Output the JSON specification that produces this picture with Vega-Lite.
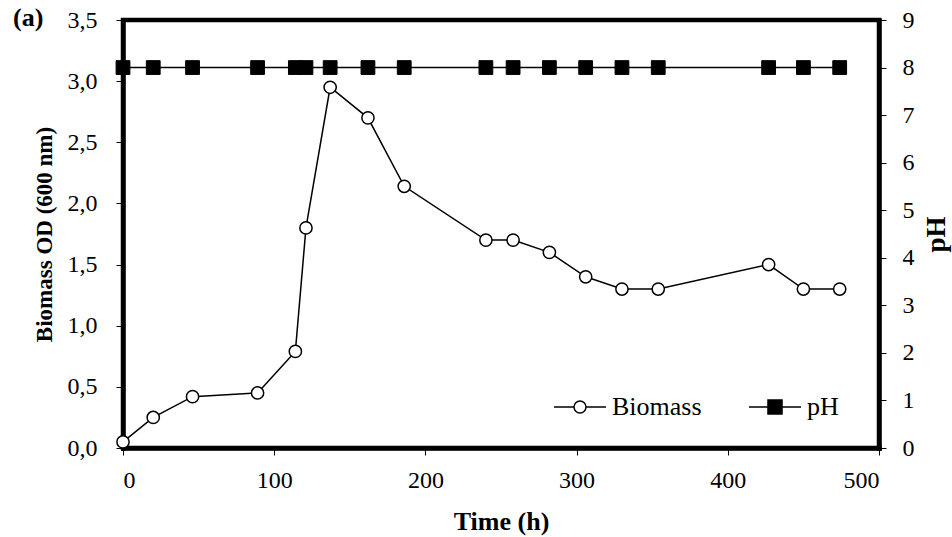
{
  "$schema": "https://vega.github.io/schema/vega-lite/v6.json",
  "width": 756,
  "height": 428,
  "autosize": {"type": "none"},
  "padding": {"left": 123, "top": 20, "right": 73, "bottom": 89},
  "background": "white",
  "title": {"text": "(a)", "anchor": "start", "frame": "group", "font": "Liberation Serif", "fontSize": 26, "fontWeight": "bold", "color": "black", "dx": -110, "dy": 36, "baseline": "middle", "offset": 0},
  "data": {"values": [
    {"time": 0, "series": "Biomass", "value": 0.05},
    {"time": 20, "series": "Biomass", "value": 0.25},
    {"time": 46, "series": "Biomass", "value": 0.42},
    {"time": 89, "series": "Biomass", "value": 0.45},
    {"time": 114, "series": "Biomass", "value": 0.79},
    {"time": 121, "series": "Biomass", "value": 1.8},
    {"time": 137, "series": "Biomass", "value": 2.95},
    {"time": 162, "series": "Biomass", "value": 2.7},
    {"time": 186, "series": "Biomass", "value": 2.14},
    {"time": 240, "series": "Biomass", "value": 1.7},
    {"time": 258, "series": "Biomass", "value": 1.7},
    {"time": 282, "series": "Biomass", "value": 1.6},
    {"time": 306, "series": "Biomass", "value": 1.4},
    {"time": 330, "series": "Biomass", "value": 1.3},
    {"time": 354, "series": "Biomass", "value": 1.3},
    {"time": 427, "series": "Biomass", "value": 1.5},
    {"time": 450, "series": "Biomass", "value": 1.3},
    {"time": 474, "series": "Biomass", "value": 1.3},
    {"time": 0, "series": "pH", "value": 8},
    {"time": 20, "series": "pH", "value": 8},
    {"time": 46, "series": "pH", "value": 8},
    {"time": 89, "series": "pH", "value": 8},
    {"time": 114, "series": "pH", "value": 8},
    {"time": 121, "series": "pH", "value": 8},
    {"time": 137, "series": "pH", "value": 8},
    {"time": 162, "series": "pH", "value": 8},
    {"time": 186, "series": "pH", "value": 8},
    {"time": 240, "series": "pH", "value": 8},
    {"time": 258, "series": "pH", "value": 8},
    {"time": 282, "series": "pH", "value": 8},
    {"time": 306, "series": "pH", "value": 8},
    {"time": 330, "series": "pH", "value": 8},
    {"time": 354, "series": "pH", "value": 8},
    {"time": 427, "series": "pH", "value": 8},
    {"time": 450, "series": "pH", "value": 8},
    {"time": 474, "series": "pH", "value": 8}
  ]},
  "encoding": {
    "x": {"field": "time", "type": "quantitative", "scale": {"domain": [0, 500], "nice": false},
      "axis": {"title": "Time (h)", "values": [0, 100, 200, 300, 400, 500], "grid": false, "titlePadding": 16, "labelPadding": 13, "titleFontSize": 26}}
  },
  "layer": [
    {
      "transform": [{"filter": "datum.series == 'Biomass'"}],
      "encoding": {
        "y": {"field": "value", "type": "quantitative", "scale": {"domain": [0, 3.5], "nice": false},
          "axis": {"title": "Biomass OD (600 nm)", "orient": "left", "values": [0, 0.5, 1, 1.5, 2, 2.5, 3, 3.5], "labelExpr": "replace(format(datum.value, '.1f'), '.', ',')", "grid": false, "labelPadding": 19, "titlePadding": 11, "titleFontSize": 23}}
      },
      "layer": [
        {"mark": {"type": "line", "color": "black", "strokeWidth": 1.5}},
        {"mark": {"type": "point", "shape": "circle", "filled": true, "fill": "white", "size": 150, "stroke": "black", "strokeWidth": 1.5, "opacity": 1}},
        {"transform": [{"filter": "datum.series == 'legend-only'"}],
         "mark": {"type": "point", "filled": true, "stroke": "black", "strokeWidth": 1.5, "opacity": 1},
          "encoding": {
            "fill": {"field": "series", "type": "nominal", "scale": {"domain": ["Biomass", "pH"], "range": ["white", "black"]},
              "legend": {"title": null, "encode": {"symbols": {"update": {"stroke": {"value": "black"}, "strokeWidth": {"value": 1.5}}}}}},
            "shape": {"field": "series", "type": "nominal", "scale": {"domain": ["Biomass", "pH"], "range": ["M-1,0H-0.23M0.23,0H1M0.23,0A0.23,0.23 0 1,1 -0.23,0A0.23,0.23 0 1,1 0.23,0Z", "M-1,0H1M-0.27,-0.27H0.27V0.27H-0.27Z"]},
              "legend": {"title": null, "encode": {"symbols": {"update": {"stroke": {"value": "black"}, "strokeWidth": {"value": 1.5}}}}}}
          }}
      ]
    },
    {
      "transform": [{"filter": "datum.series == 'pH'"}],
      "encoding": {
        "y": {"field": "value", "type": "quantitative", "scale": {"domain": [0, 9], "nice": false},
          "axis": {"title": "pH", "orient": "right", "values": [0, 1, 2, 3, 4, 5, 6, 7, 8, 9], "grid": false, "labelPadding": 16, "titlePadding": 36, "titleAngle": 270, "titleFontSize": 27}}
      },
      "layer": [
        {"mark": {"type": "line", "color": "black", "strokeWidth": 1.5}},
        {"mark": {"type": "point", "shape": "square", "filled": true, "fill": "black", "size": 190, "stroke": "black", "strokeWidth": 1, "opacity": 1}}
      ]
    }
  ],
  "resolve": {"scale": {"y": "independent"}},
  "config": {
    "view": {"stroke": "black", "strokeWidth": 4.5},
    "axis": {
      "domainColor": "black", "domainWidth": 4.5, "domainCap": "square",
      "tickColor": "black", "tickWidth": 1, "tickSize": 7,
      "labelFont": "Liberation Serif", "labelFontSize": 24, "labelColor": "black",
      "titleFont": "Liberation Serif", "titleFontSize": 24, "titleFontWeight": "bold", "titleColor": "black"
    },
    "legend": {
      "orient": "none", "legendX": 430, "legendY": 360, "direction": "horizontal",
      "labelFont": "Liberation Serif", "labelFontSize": 26, "labelColor": "black", "labelOffset": 5,
      "symbolSize": 2704, "symbolStrokeColor": "black", "symbolStrokeWidth": 1.5, "columnPadding": 44,
      "symbolOpacity": 1
    }
  }
}
